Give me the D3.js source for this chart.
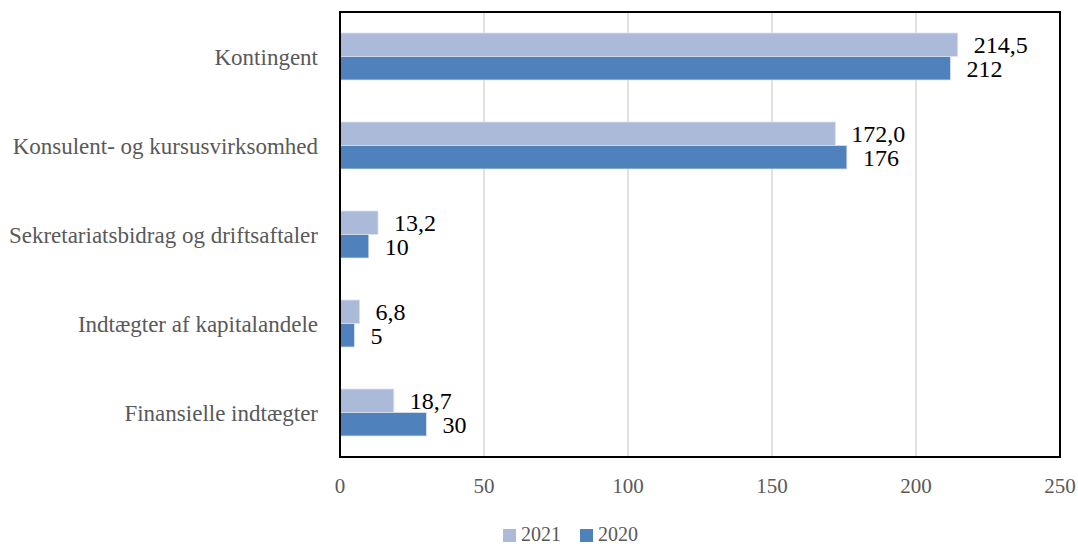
<!DOCTYPE html>
<html>
<head>
<meta charset="utf-8">
<script src="https://cdn.jsdelivr.net/npm/d3@7"></script>
<style>
  body { margin: 0; background: #fff; }
  text { font-family: "Liberation Serif", "DejaVu Serif", serif; }
</style>
</head>
<body>
<div id="canvas"></div>
<script>
"use strict"

/* Data */
let categories = [
    "Kontingent",
    "Konsulent- og kursusvirksomhed",
    "Sekretariatsbidrag og driftsaftaler",
    "Indtægter af kapitalandele",
    "Finansielle indtægter"
];
let seriesNames = ["2021", "2020"];
let values2021 = [214.5, 172.0, 13.2, 6.8, 18.7];
let values2020 = [212, 176, 10, 5, 30];
let labels2021 = ["214,5", "172,0", "13,2", "6,8", "18,7"];
let labels2020 = ["212", "176", "10", "5", "30"];
let xTicks = [0, 50, 100, 150, 200, 250];

/* Drawing config */
let svgWidth = 1078;
let svgHeight = 544;
let plotLeft = 340;
let plotRight = 1060;
let plotTop = 12;
let plotBottom = 457;

let colors = { "2021": "#abbad8", "2020": "#4f81bd" };

let svg = d3.select("#canvas")
    .append("svg")
    .attr("width", svgWidth)
    .attr("height", svgHeight);

let xScale = d3.scaleLinear()
    .domain([0, 250])
    .range([plotLeft, plotRight]);

let yScale = d3.scaleBand()
    .domain(categories)
    .range([plotTop, plotBottom]);

// inner band for the two series inside each category
let innerScale = d3.scaleBand()
    .domain(seriesNames)
    .range([0, 47])
    .paddingInner(0);

/* Gridlines */
svg.append("g")
    .selectAll("line")
    .data(xTicks.slice(1, -1))
    .join("line")
    .attr("x1", d => xScale(d))
    .attr("x2", d => xScale(d))
    .attr("y1", plotTop)
    .attr("y2", plotBottom)
    .attr("stroke", "#d9d9d9")
    .attr("stroke-width", 1.5);

/* Bars */
let rows = categories.map(function (c, i) {
    return [
        { cat: c, series: "2021", value: values2021[i], label: labels2021[i] },
        { cat: c, series: "2020", value: values2020[i], label: labels2020[i] }
    ];
}).flat();

function barTop(d) {
    return yScale(d.cat) + yScale.bandwidth() / 2 - 23.5 + innerScale(d.series);
}

svg.append("g")
    .selectAll("rect")
    .data(rows)
    .join("rect")
    .attr("x", xScale(0))
    .attr("y", d => barTop(d))
    .attr("width", d => xScale(d.value) - xScale(0))
    .attr("height", innerScale.bandwidth())
    .attr("fill", d => colors[d.series])
    .attr("stroke", "#dde3ee")
    .attr("stroke-width", 0.8);

/* Value labels */
svg.append("g")
    .selectAll("text")
    .data(rows)
    .join("text")
    .attr("x", d => xScale(d.value) + 16)
    .attr("y", d => barTop(d) + innerScale.bandwidth() / 2)
    .attr("dy", "0.35em")
    .attr("font-size", 24)
    .attr("fill", "#000")
    .text(d => d.label);

/* Plot border */
svg.append("rect")
    .attr("x", plotLeft)
    .attr("y", plotTop)
    .attr("width", plotRight - plotLeft)
    .attr("height", plotBottom - plotTop)
    .attr("fill", "none")
    .attr("stroke", "#000")
    .attr("stroke-width", 2);

/* Category labels */
svg.append("g")
    .selectAll("text")
    .data(categories)
    .join("text")
    .attr("x", plotLeft - 22)
    .attr("y", d => yScale(d) + yScale.bandwidth() / 2)
    .attr("dy", "0.35em")
    .attr("text-anchor", "end")
    .attr("font-size", 23)
    .attr("fill", "#595959")
    .text(d => d);

/* X tick labels */
svg.append("g")
    .selectAll("text")
    .data(xTicks)
    .join("text")
    .attr("x", d => xScale(d))
    .attr("y", 486)
    .attr("dy", "0.35em")
    .attr("text-anchor", "middle")
    .attr("font-size", 21)
    .attr("fill", "#595959")
    .text(d => d);

/* Legend */
let legendX = [503, 580];
seriesNames.forEach(function (s, i) {
    svg.append("rect")
        .attr("x", legendX[i])
        .attr("y", 529)
        .attr("width", 13)
        .attr("height", 13)
        .attr("fill", colors[s]);
    svg.append("text")
        .attr("x", legendX[i] + 18)
        .attr("y", 541)
        .attr("font-size", 20)
        .attr("fill", "#595959")
        .text(s);
});
</script>
</body>
</html>
